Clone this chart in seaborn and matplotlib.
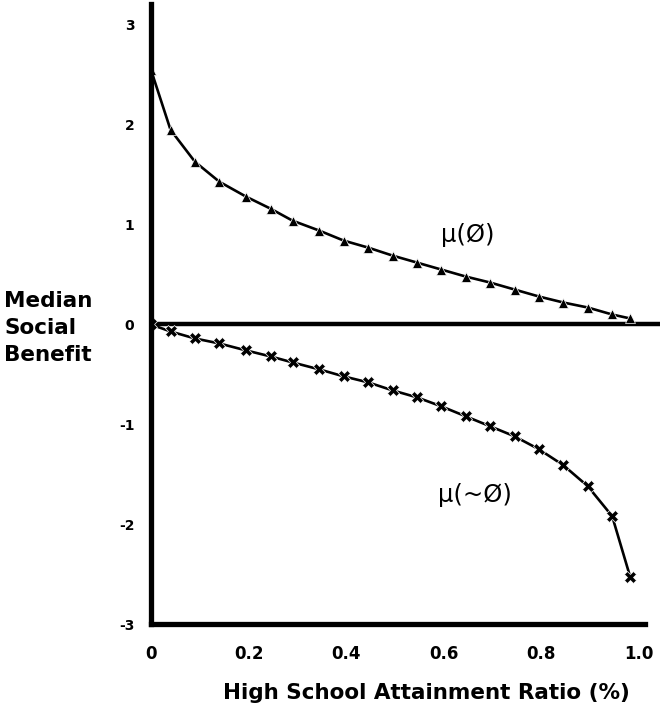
import numpy as np
import pandas as pd
import seaborn as sns
import matplotlib
matplotlib.use("Agg")
import matplotlib.pyplot as plt

# Values
ratio = [0, 0.04, 0.09, 0.14, 0.195, 0.245, 0.29, 0.345, 0.395, 0.445, 0.495,
         0.545, 0.595, 0.645, 0.695, 0.745, 0.795, 0.845, 0.895, 0.945, 0.982]
mu_phi = [2.55, 1.95, 1.63, 1.43, 1.28, 1.16, 1.04, 0.94, 0.84, 0.77, 0.69,
          0.62, 0.55, 0.48, 0.42, 0.35, 0.28, 0.22, 0.17, 0.10, 0.06]
mu_not_phi = [0.0, -0.07, -0.14, -0.19, -0.26, -0.32, -0.38, -0.45, -0.52, -0.58, -0.66,
              -0.73, -0.82, -0.92, -1.02, -1.12, -1.25, -1.41, -1.62, -1.92, -2.53]
x_ticks = [0, 0.2, 0.4, 0.6, 0.8, 1.0]
x_tick_labels = ["0", "0.2", "0.4", "0.6", "0.8", "1.0"]
y_ticks = [3, 2, 1, 0, -1, -2, -3]

df = pd.DataFrame({"ratio": ratio, "upper": mu_phi, "lower": mu_not_phi})

sns.set_style("white")
plt.rcParams["font.family"] = ["DejaVu Sans"]
plt.rcParams["text.color"] = "black"
plt.rcParams["axes.labelcolor"] = "black"

fig = plt.figure(figsize=(6.6, 7.11), dpi=100)
ax = fig.add_axes([151 / 660, 87 / 711, 509 / 660, 620 / 711])

sns.lineplot(data=df, x="ratio", y="upper", ax=ax, color="black", linewidth=1.9,
             marker="^", markersize=7, markeredgewidth=0.5)
sns.lineplot(data=df, x="ratio", y="lower", ax=ax, color="black", linewidth=1.9,
             marker="X", markersize=8, markeredgewidth=0.5)

# thick zero line
ax.axhline(0, color="black", linewidth=3.2, zorder=1)

ax.set_xlim(0, 1.043)
ax.set_ylim(-3, 3.21)

for s in ["top", "right"]:
    ax.spines[s].set_visible(False)
ax.spines["left"].set_linewidth(3.8)
ax.spines["bottom"].set_linewidth(3.8)
ax.spines["left"].set_color("black")
ax.spines["bottom"].set_color("black")
ax.spines["bottom"].set_bounds(0, 1.013)

ax.set_xticks(x_ticks)
ax.set_xticklabels(x_tick_labels, fontsize=12, fontweight="bold")
ax.set_yticks(y_ticks)
ax.set_yticklabels([str(v) for v in y_ticks], fontsize=10, fontweight="bold")
ax.tick_params(axis="x", direction="inout", length=6, width=1.5, pad=12, colors="black")
ax.tick_params(axis="y", direction="out", length=8, width=1.5, pad=4, colors="black")

ax.set_xlabel("High School Attainment Ratio (%)", fontsize=15.5, fontweight="bold")
ax.xaxis.set_label_coords((426 - 151) / 509, -0.095)
ax.set_ylabel("")

fig.text(4 / 660, 1 - 328 / 711, "Median\nSocial\nBenefit", fontsize=15.5, fontweight="bold",
         ha="left", va="center", linespacing=1.45)

ax.text(0.65, 0.9, "μ(Ø)", fontsize=17.5, ha="center", va="center")
ax.text(0.663, -1.71, "μ(~Ø)", fontsize=17.5, ha="center", va="center")

ax.grid(False)
fig.savefig("out.png", dpi=100)
